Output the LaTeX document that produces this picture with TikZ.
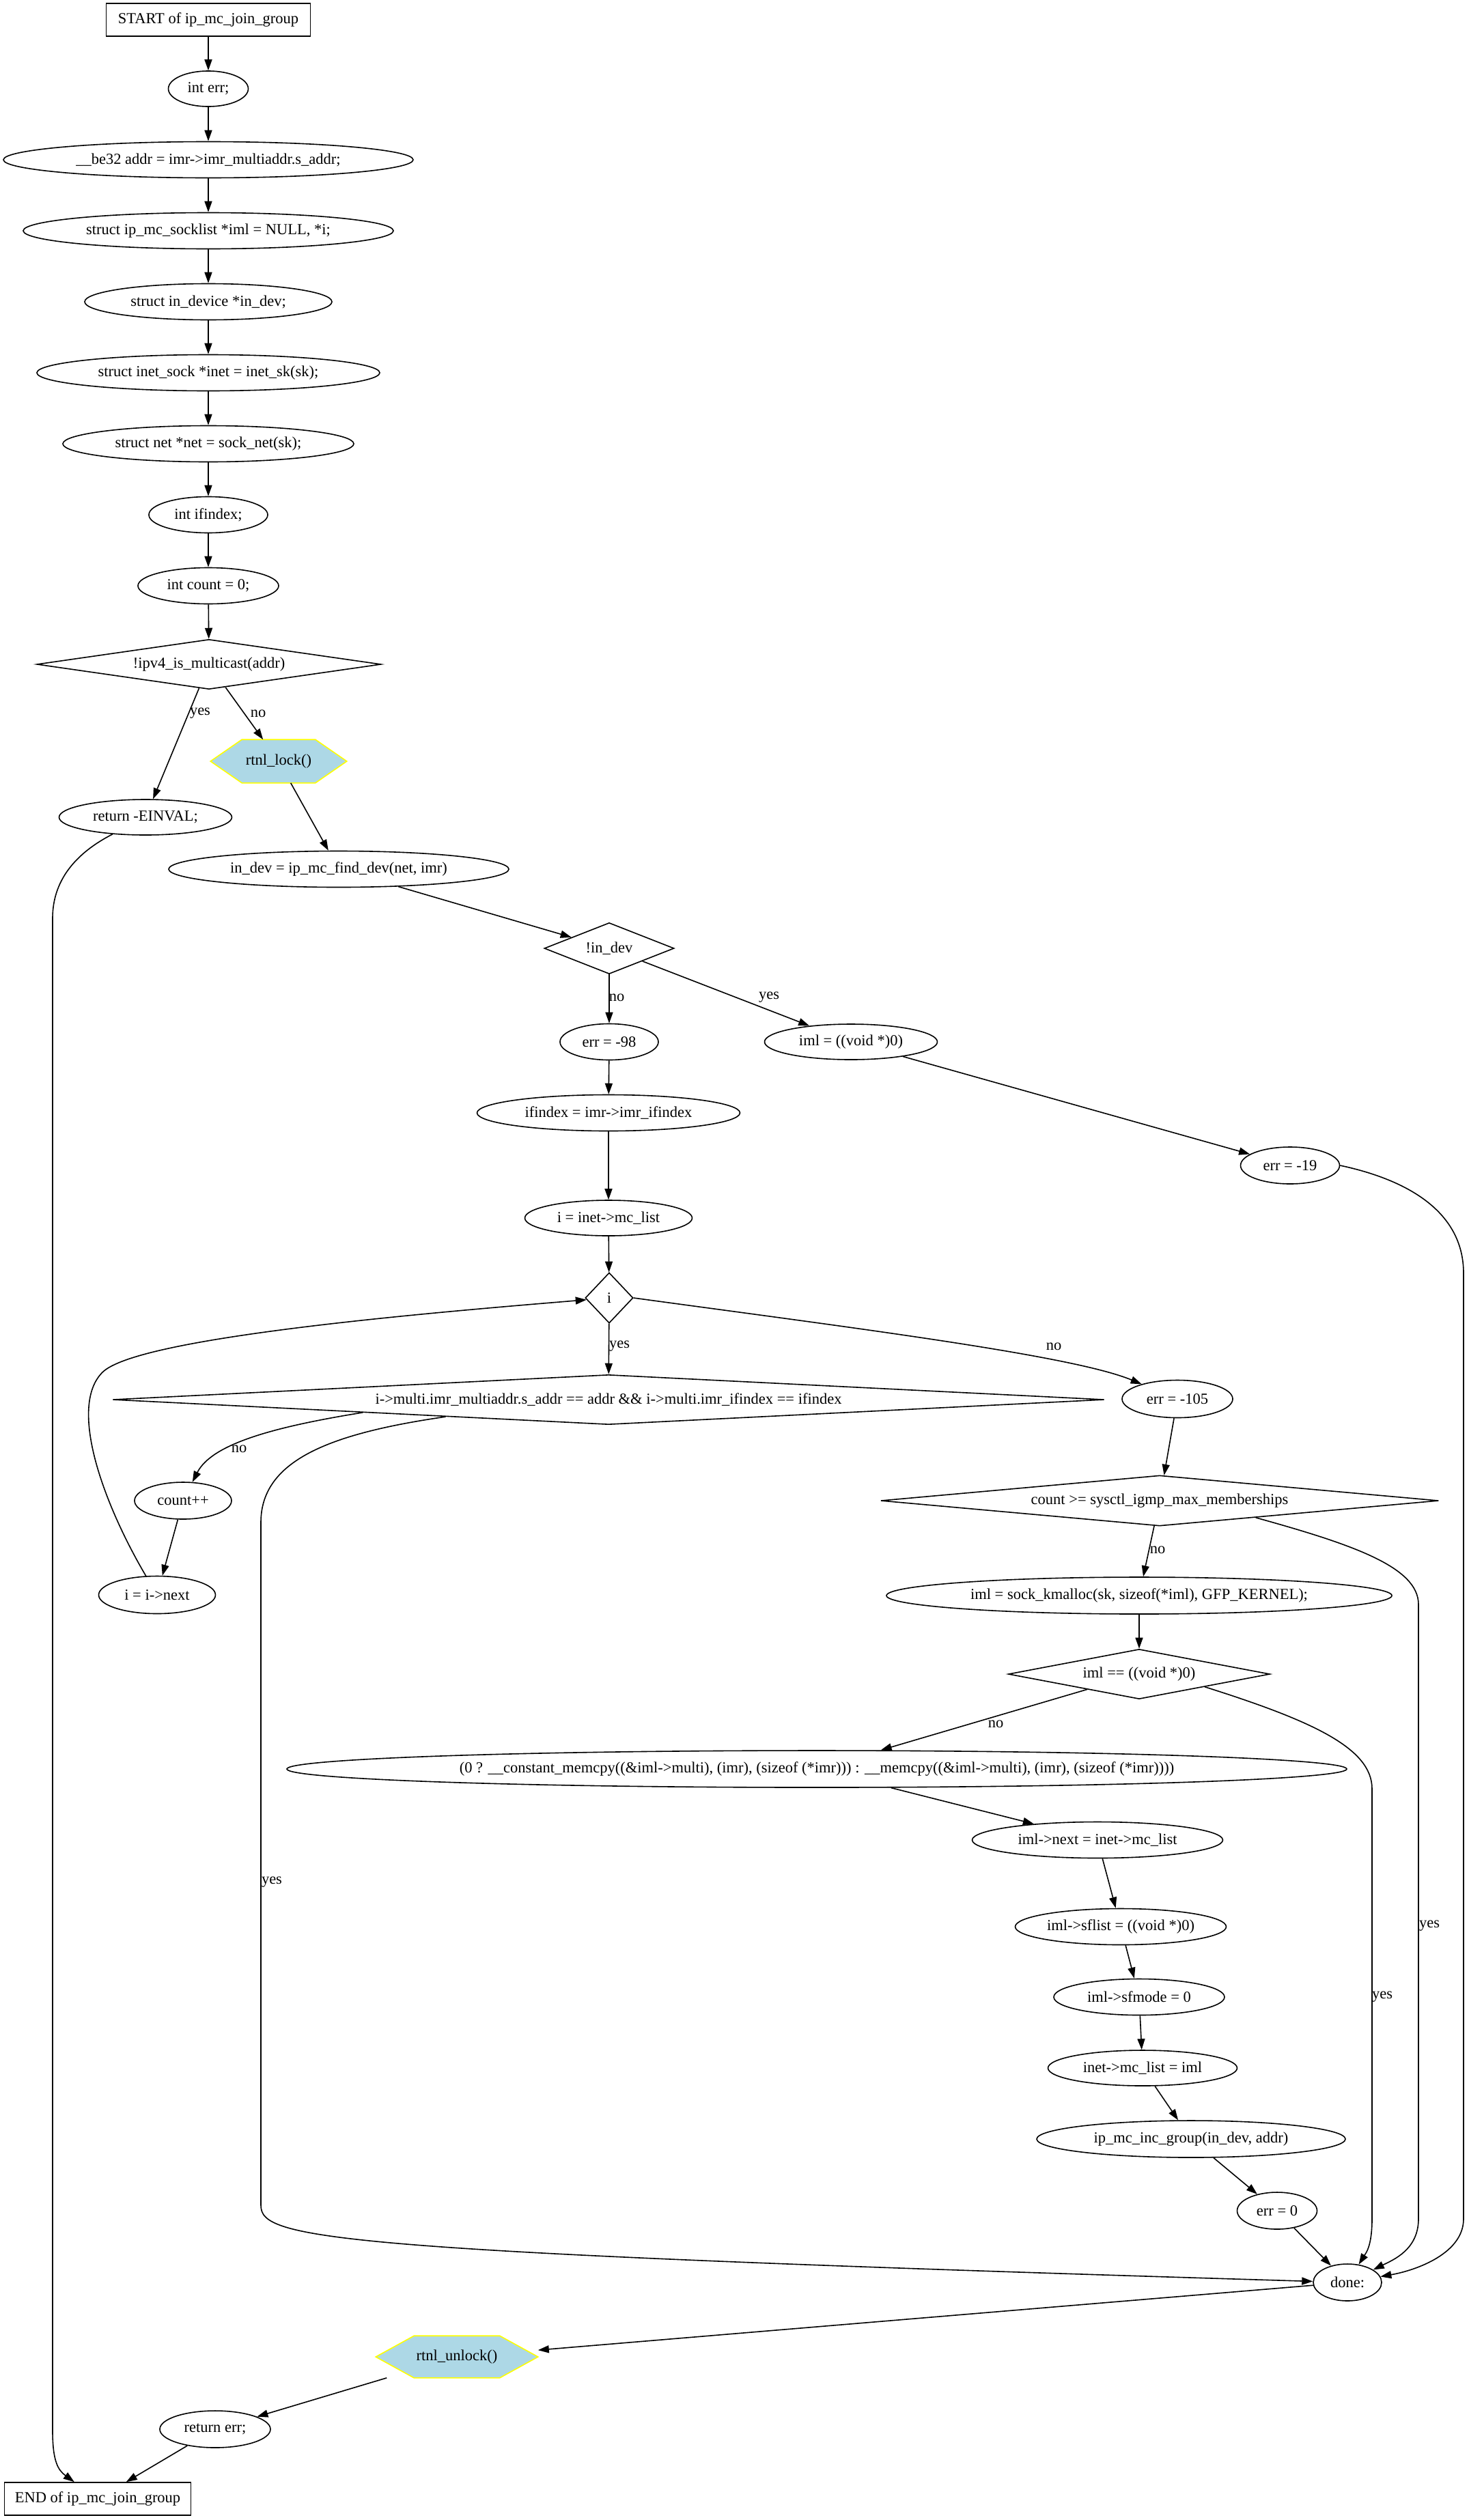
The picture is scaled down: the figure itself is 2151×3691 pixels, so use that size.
\documentclass[tikz,border=0pt]{standalone}
\usepackage{fontspec}
\setmainfont{Liberation Serif}
\usetikzlibrary{shapes.geometric,arrows.meta,backgrounds}
\definecolor{lblue}{HTML}{ADD8E6}
\definecolor{hexborder}{HTML}{FFFF00}
\tikzset{
  base/.style={font=\fontsize{22.5}{27}\selectfont, inner sep=0pt, line width=1.6pt},
  ell/.style n args={2}{base, draw, ellipse, minimum width=#1pt, minimum height=#2pt},
  dia/.style n args={3}{base, draw, diamond, aspect=#3, minimum width=#1pt, minimum height=#2pt},
  boxnode/.style n args={2}{base, draw, rectangle, minimum width=#1pt, minimum height=#2pt},
  hexnode/.style n args={2}{base, rectangle, minimum width=#1pt, minimum height=#2pt},
  hexa/.style={fill=lblue, draw=hexborder, line width=1.6pt},
  lab/.style={font=\fontsize{22.5}{27}\selectfont, inner sep=0pt},
  arr/.style={line width=1.6pt, -{Triangle[length=16pt,width=11pt]}},
}
\begin{document}
\begin{tikzpicture}[x=1pt,y=-1pt]
\useasboundingbox (0,0) rectangle (2151,3691);
\begin{scope}[on background layer]
\fill[white] (0,0) rectangle (2151,3691);
\end{scope}

% nodes
\node[boxnode={299}{48}] (start) at (305,29) {START of ip\_mc\_join\_group};
\node[ell={117}{52}] (n1) at (305,130) {int err;};
\node[ell={600}{53}] (n2) at (305,234) {\_\_be32 addr = imr->imr\_multiaddr.s\_addr;};
\node[ell={542}{53}] (n3) at (305,338) {struct ip\_mc\_socklist *iml = NULL, *i;};
\node[ell={362}{53}] (n4) at (305,442) {struct in\_device *in\_dev;};
\node[ell={502}{53}] (n5) at (305,546) {struct inet\_sock *inet = inet\_sk(sk);};
\node[ell={426}{53}] (n6) at (305,650) {struct net *net = sock\_net(sk);};
\node[ell={174}{53}] (n7) at (305,754) {int ifindex;};
\node[ell={206}{53}] (n8) at (305,858) {int count = 0;};
\node[dia={504}{73}{6.9}] (d1) at (306,973) {!ipv4\_is\_multicast(addr)};
\node[hexnode={198}{62}] (lock) at (408,1115) {rtnl\_lock()};
\node[ell={253}{52}] (einval) at (213,1197) {return -EINVAL;};
\node[ell={498}{53}] (finddev) at (496,1273) {in\_dev = ip\_mc\_find\_dev(net, imr)};
\node[dia={190}{75}{2.53}] (d2) at (892,1389) {!in\_dev};
\node[ell={144}{53}] (err98) at (892,1526) {err = -98};
\node[ell={253}{52}] (imlnull) at (1246,1526) {iml = ((void *)0)};
\node[ell={385}{53}] (ifidx) at (891,1630) {ifindex = imr->imr\_ifindex};
\node[ell={145}{54}] (err19) at (1889,1707) {err = -19};
\node[ell={245}{52}] (ilist) at (891,1784) {i = inet->mc\_list};
\node[dia={70}{74}{0.95}] (d3) at (892,1901) {i};
\node[dia={1452}{73}{19.9}] (d4) at (891,2050) {i->multi.imr\_multiaddr.s\_addr == addr \&\& i->multi.imr\_ifindex == ifindex};
\node[ell={162}{55}] (err105) at (1724,2049) {err = -105};
\node[ell={142}{54}] (countpp) at (268,2198) {count++};
\node[ell={171}{55}] (inext) at (230,2336) {i = i->next};
\node[dia={817}{74}{11}] (d5) at (1698,2198) {count >= sysctl\_igmp\_max\_memberships};
\node[ell={740}{54}] (kmalloc) at (1668,2337) {iml = sock\_kmalloc(sk, sizeof(*iml), GFP\_KERNEL);};
\node[dia={383}{73}{5.2}] (d6) at (1668,2452) {iml == ((void *)0)};
\node[ell={1552}{54}] (memcpy) at (1196,2591) {(0 ? \_\_constant\_memcpy((\&iml->multi), (imr), (sizeof (*imr))) : \_\_memcpy((\&iml->multi), (imr), (sizeof (*imr))))};
\node[ell={367}{53}] (imlnext) at (1607,2695) {iml->next = inet->mc\_list};
\node[ell={309}{53}] (sflist) at (1641,2822) {iml->sflist = ((void *)0)};
\node[ell={250}{53}] (sfmode) at (1668,2925) {iml->sfmode = 0};
\node[ell={277}{52}] (mclist) at (1673,3029) {inet->mc\_list = iml};
\node[ell={452}{54}] (incgroup) at (1744,3133) {ip\_mc\_inc\_group(in\_dev, addr)};
\node[ell={117}{54}] (err0) at (1870,3238) {err = 0};
\node[ell={100}{54}] (done) at (1973,3343) {done:};
\node[hexnode={236}{60}] (unlock) at (669,3452) {rtnl\_unlock()};
\node[ell={162}{54}] (reterr) at (315,3558) {return err;};
\node[boxnode={273}{48}] (endbox) at (143,3660) {END of ip\_mc\_join\_group};

% hexagon outlines
\begin{scope}[on background layer]
\draw[hexa] (lock.west) -- ([xshift=46pt]lock.north west) -- ([xshift=-46pt]lock.north east) -- (lock.east) -- ([xshift=-46pt]lock.south east) -- ([xshift=46pt]lock.south west) -- cycle;
\draw[hexa] (unlock.west) -- ([xshift=56pt]unlock.north west) -- ([xshift=-56pt]unlock.north east) -- (unlock.east) -- ([xshift=-56pt]unlock.south east) -- ([xshift=56pt]unlock.south west) -- cycle;
\end{scope}

% straight edges
\draw[arr] (start) -- (n1);
\draw[arr] (n1) -- (n2);
\draw[arr] (n2) -- (n3);
\draw[arr] (n3) -- (n4);
\draw[arr] (n4) -- (n5);
\draw[arr] (n5) -- (n6);
\draw[arr] (n6) -- (n7);
\draw[arr] (n7) -- (n8);
\draw[arr] (n8) -- (d1);
\draw[arr] (d1) -- (einval);
\draw[arr] (d1) -- (lock);
\draw[arr] (lock) -- (finddev);
\draw[arr] (finddev) -- (d2);
\draw[arr] (d2) -- (err98);
\draw[arr] (d2) -- (imlnull);
\draw[arr] (err98) -- (ifidx);
\draw[arr] (ifidx) -- (ilist);
\draw[arr] (imlnull) -- (err19);
\draw[arr] (ilist) -- (d3);
\draw[arr] (d3) -- (d4);
\draw[arr] (countpp) -- (inext);
\draw[arr] (err105) -- (d5);
\draw[arr] (d5) -- (kmalloc);
\draw[arr] (kmalloc) -- (d6);
\draw[arr] (d6) -- (memcpy);
\draw[arr] (memcpy) -- (imlnext);
\draw[arr] (imlnext) -- (sflist);
\draw[arr] (sflist) -- (sfmode);
\draw[arr] (sfmode) -- (mclist);
\draw[arr] (mclist) -- (incgroup);
\draw[arr] (incgroup) -- (err0);
\draw[arr] (err0) -- (done);
\draw[arr] (done) -- (unlock);
\draw[arr] (unlock) -- (reterr);
\draw[arr] (reterr) -- (endbox);

% curved edges
\draw[arr] (einval) .. controls (110,1250) and (77,1290) .. (77,1345) -- (77,3560) .. controls (77,3605) and (85,3618) .. (endbox);
\draw[arr] (err19.east) .. controls (2070,1730) and (2143,1780) .. (2143,1865) -- (2143,3250) .. controls (2143,3300) and (2075,3325) .. (done);
\draw[arr] (d3.east) .. controls (1250,1945) and (1570,1985) .. (err105);
\draw[arr] (d4.183) .. controls (400,2090) and (310,2115) .. (countpp);
\draw[arr] (d4.186) .. controls (480,2100) and (382,2140) .. (382,2230) -- (382,3230) .. controls (382,3280) and (480,3298) .. (done);
\draw[arr] (inext) .. controls (150,2200) and (100,2060) .. (150,2010) .. controls (200,1960) and (600,1925) .. (d3);
\draw[arr] (d5.-10) .. controls (1980,2262) and (2077,2295) .. (2077,2350) -- (2077,3250) .. controls (2077,3295) and (2040,3310) .. (done);
\draw[arr] (d6.-11) .. controls (1920,2520) and (2009,2560) .. (2009,2620) -- (2009,3250) .. controls (2009,3290) and (2000,3300) .. (done);

% edge labels
\node[lab] (l1) at (293,1045) {yes};
\node[lab] (l2) at (378,1045) {no};
\node[lab] (l3) at (903,1461) {no};
\node[lab] (l4) at (1126,1461) {yes};
\node[lab] (l5) at (907,1972) {yes};
\node[lab] (l6) at (1543,1972) {no};
\node[lab] (l7) at (350,2122) {no};
\node[lab] (l8) at (1695,2270) {no};
\node[lab] (l9) at (1458,2525) {no};
\node[lab] (l10) at (398,2757) {yes};
\node[lab] (l11) at (2093,2821) {yes};
\node[lab] (l12) at (2024,2925) {yes};
\end{tikzpicture}
\end{document}
